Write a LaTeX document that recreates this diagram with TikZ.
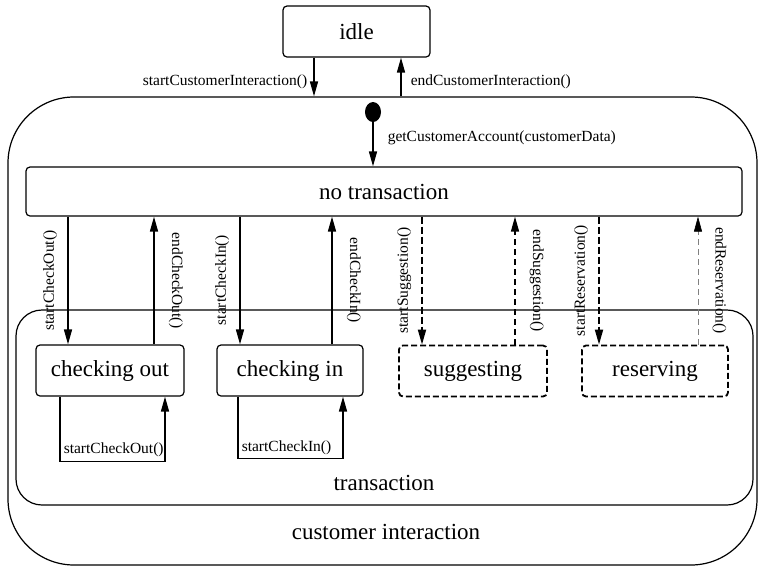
\documentclass[tikz,border=0pt]{standalone}
\usepackage{fontspec}
\setmainfont{Liberation Serif}
\usetikzlibrary{arrows.meta,shapes.geometric}

\begin{document}
\begin{tikzpicture}[x=1pt,y=-1pt,
  big/.style={font=\fontsize{23}{27}\selectfont},
  lbl/.style={font=\fontsize{15.5}{18}\selectfont},
  state/.style={draw, big, line width=1.2pt, rounded corners=4pt, inner sep=0pt},
  optstate/.style={state, line width=1.8pt, dash pattern=on 6pt off 3pt},
  superstate/.style={draw, line width=1.2pt, inner sep=0pt},
  initial/.style={ellipse, fill=black, inner sep=0pt, minimum width=16pt, minimum height=20pt},
  transition/.style={line width=1.5pt, -{Triangle[length=15pt,width=8pt]}},
  optin/.style={transition, line width=1.8pt, dash pattern=on 7pt off 3pt},
  optout/.style={transition, line width=1.4pt, dash pattern=on 6pt off 4pt},
  lbldown/.style={lbl, rotate=90, anchor=south, inner sep=10pt},
  lblup/.style={lbl, rotate=-90, anchor=south, inner sep=14pt},
  ]
\useasboundingbox (0,0) rectangle (758,566);

% composite states
\node[superstate, rounded corners=66pt, minimum width=749pt, minimum height=468pt] (custInt) at (382.5,331) {};
\node[superstate, rounded corners=26pt, minimum width=737pt, minimum height=195pt] (transact) at (384.5,407.5) {};
\node[big] (custIntLbl) at (386,532) {customer interaction};
\node[big] (transactLbl) at (384,483) {transaction};

% states
\node[state, minimum width=147pt, minimum height=51pt] (idle) at (356.5,31.5) {idle};
\node[state, minimum width=716pt, minimum height=49pt] (noTrans) at (384,191.5) {no transaction};
\node[state, minimum width=148pt, minimum height=51pt] (checkOut) at (110,370.5) {checking out};
\node[state, minimum width=146pt, minimum height=51pt] (checkIn) at (290,370.5) {checking in};
\node[optstate, minimum width=148pt, minimum height=51pt] (suggest) at (473,371) {suggesting};
\node[optstate, minimum width=146pt, minimum height=51pt] (reserve) at (655,371) {reserving};
\node[initial] (init) at (373,112) {};

% idle <-> customer interaction
\coordinate (ciIn) at ([xshift=-42.5pt]idle.south);
\coordinate (ciOut) at ([xshift=44.5pt]idle.south);
\draw[transition] (ciIn) -- node[lbl, pos=.62, left, inner sep=6pt] {startCustomerInteraction()} (ciIn |- custInt.north);
\draw[transition] (ciOut |- custInt.north) -- node[lbl, pos=.38, right, inner sep=9pt] {endCustomerInteraction()} (ciOut);
\draw[transition] (init) -- node[lbl, pos=.35, right, inner sep=14pt] {getCustomerAccount(customerData)} (init |- noTrans.north);

% no transaction <-> substates
\coordinate (coIn) at ([xshift=-42pt]checkOut.north);
\coordinate (coOut) at ([xshift=44pt]checkOut.north);
\draw[transition] (coIn |- noTrans.south) -- node[lbldown] {startCheckOut()} (coIn);
\draw[transition] (coOut) -- node[lblup] {endCheckOut()} (coOut |- noTrans.south);

\coordinate (cnIn) at ([xshift=-50pt]checkIn.north);
\coordinate (cnOut) at ([xshift=42pt]checkIn.north);
\draw[transition] (cnIn |- noTrans.south) -- node[lbldown] {startCheckIn()} (cnIn);
\draw[transition] (cnOut) -- node[lblup] {endCheckIn()} (cnOut |- noTrans.south);

\coordinate (sgIn) at ([xshift=-51pt]suggest.north);
\coordinate (sgOut) at ([xshift=42pt]suggest.north);
\draw[optin] (sgIn |- noTrans.south) -- node[lbldown] {startSuggestion()} (sgIn);
\draw[optout] (sgOut) -- node[lblup] {endSuggestion()} (sgOut |- noTrans.south);

\coordinate (rsIn) at ([xshift=-56pt]reserve.north);
\coordinate (rsOut) at ([xshift=43pt]reserve.north);
\draw[optin] (rsIn |- noTrans.south) -- node[lbldown] {startReservation()} (rsIn);
\draw[optout, line width=0.6pt, gray, -{Triangle[length=15pt,width=8pt,color=black]}] (rsOut) -- node[lblup, black] {endReservation()} (rsOut |- noTrans.south);

% self loops
\draw[transition] ([xshift=-50pt]checkOut.south) -- ++(0,65)
  node[lbl, above right, inner xsep=3pt, inner ysep=4pt] {startCheckOut()} -| ([xshift=55pt]checkOut.south);
\draw[transition] ([xshift=-52pt]checkIn.south) -- ++(0,62)
  node[lbl, above right, inner xsep=3pt, inner ysep=3pt] {startCheckIn()} -| ([xshift=53pt]checkIn.south);
\end{tikzpicture}
\end{document}
